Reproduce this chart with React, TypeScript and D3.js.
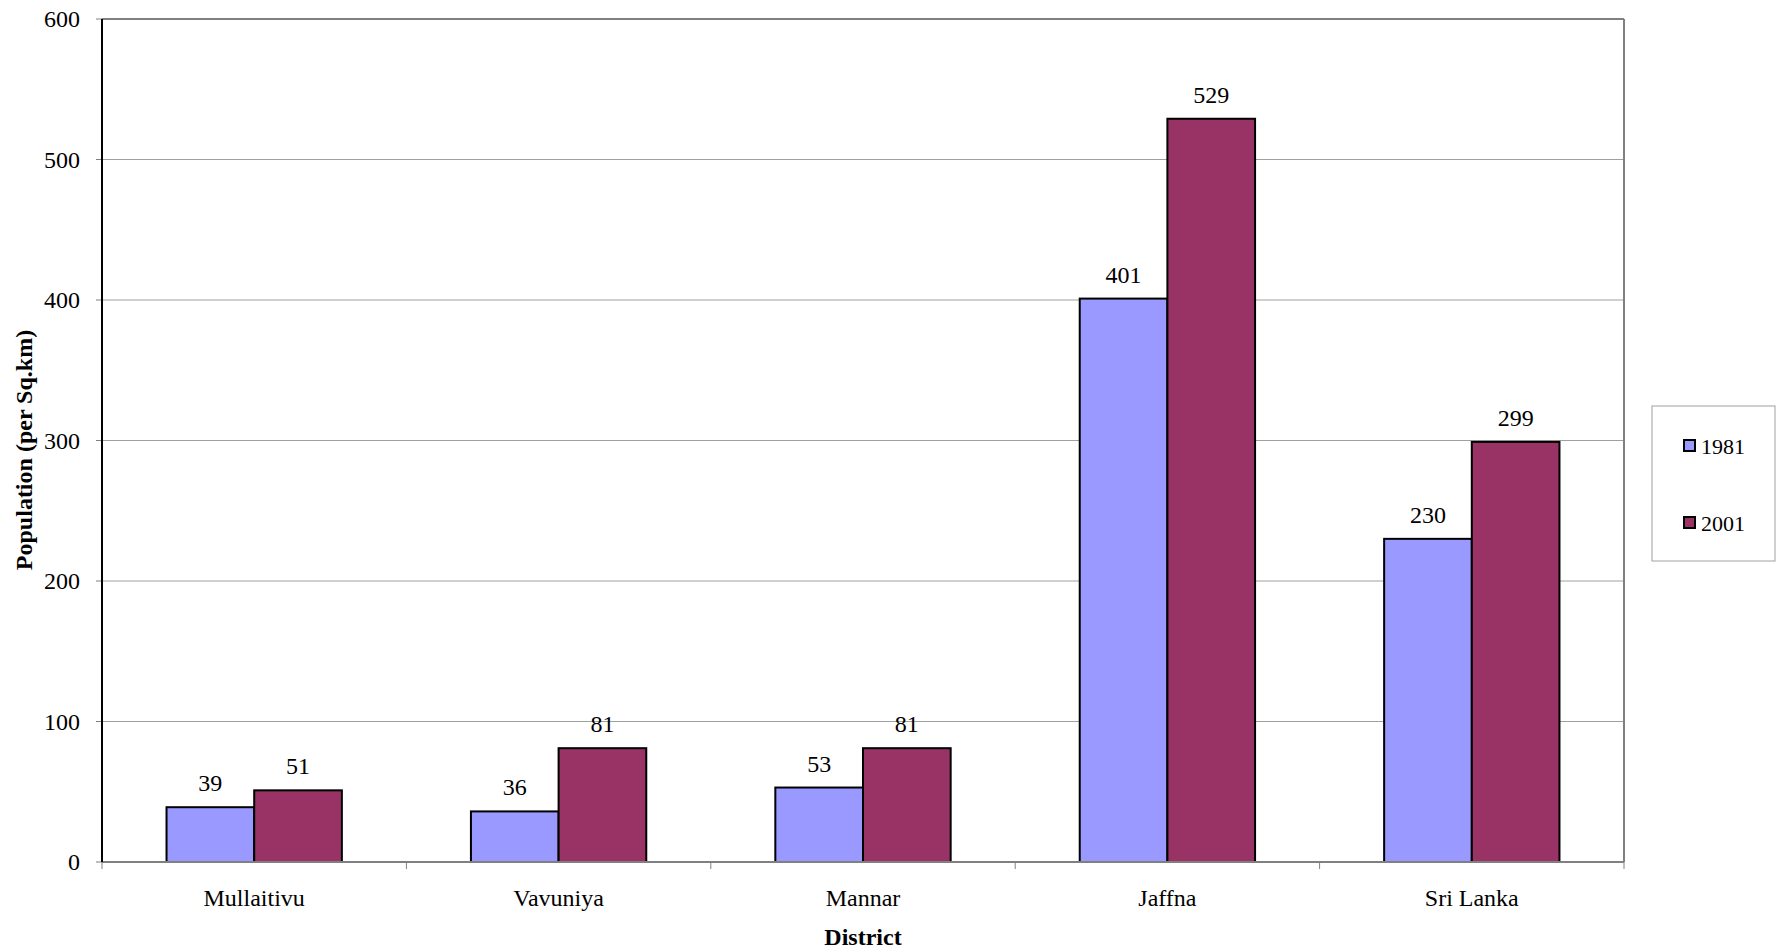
import React from "react";
import * as d3 from "d3";

const categories = ["Mullaitivu", "Vavuniya", "Mannar", "Jaffna", "Sri Lanka"];
const series = ["1981", "2001"];
const values1981 = [39, 36, 53, 401, 230];
const values2001 = [51, 81, 81, 529, 299];
const yTicks = [0, 100, 200, 300, 400, 500, 600];
const colors = ["#9999FF", "#993366"];

const FONT = "Liberation Serif";

export default function App() {
  const W = 1781, H = 951;
  const left = 102, right = 1624, top = 19, bottom = 862;
  const x = d3.scaleBand<string>().domain(categories).range([left, right]);
  const y = d3.scaleLinear().domain([0, 600]).range([bottom, top]);
  const bw = x.bandwidth() * 0.288;
  const data = [values1981, values2001];
  return (
    <svg width={W} height={H} style={{ position: "absolute", left: 0, top: 0 }}>
      <rect x={0} y={0} width={W} height={H} fill="#fff" />
      {yTicks.map((t) => (
        <g key={t}>
          {t > 0 && <line x1={left} x2={right} y1={y(t)} y2={y(t)} stroke="#a0a0a0" strokeWidth={1} />}
          <line x1={left - 6} x2={left} y1={y(t)} y2={y(t)} stroke="#808080" strokeWidth={1} />
          <text x={left - 22} y={y(t)} dy="0.35em" textAnchor="end" fontFamily={FONT} fontSize={24} fill="#000">{t}</text>
        </g>
      ))}
      <line x1={left} x2={right} y1={top} y2={top} stroke="#808080" strokeWidth={2} />
      <line x1={right} x2={right} y1={top} y2={bottom} stroke="#808080" strokeWidth={2} />
      {categories.map((c, i) => (
        <g key={c}>
          {data.map((vals, s) => {
            const cx = x(c)! + x.bandwidth() / 2;
            const bx = cx + (s - 1) * bw;
            return (
              <g key={s}>
                <rect x={bx} y={y(vals[i])} width={bw} height={bottom - y(vals[i])} fill={colors[s]} stroke="#000" strokeWidth={2} />
                <text x={bx + bw / 2} y={y(vals[i]) - 16} textAnchor="middle" fontFamily={FONT} fontSize={24} fill="#000">{vals[i]}</text>
              </g>
            );
          })}
          <text x={x(c)! + x.bandwidth() / 2} y={898} dy="0.35em" textAnchor="middle" fontFamily={FONT} fontSize={24} fill="#000">{c}</text>
        </g>
      ))}
      {d3.range(categories.length + 1).map((i) => {
        const xx = left + i * x.step();
        return <line key={i} x1={xx} x2={xx} y1={bottom} y2={bottom + 7} stroke="#808080" strokeWidth={1} />;
      })}
      <line x1={left} x2={right} y1={bottom} y2={bottom} stroke="#808080" strokeWidth={2} />
      <line x1={left} x2={left} y1={top} y2={bottom} stroke="#000" strokeWidth={2} />
      <text x={left + (right - left) / 2} y={937} dy="0.35em" textAnchor="middle" fontFamily={FONT} fontSize={24} fontWeight="bold" fill="#000">District</text>
      <text transform={`translate(24, 450) rotate(-90)`} dy="0.35em" textAnchor="middle" fontFamily={FONT} fontSize={24} fontWeight="bold" fill="#000">Population (per Sq.km)</text>
      <rect x={1652} y={406} width={123} height={155} fill="#fff" stroke="#a0a0a0" strokeWidth={1} />
      {series.map((s, i) => {
        const ly = 446 + i * 77;
        return (
          <g key={s}>
            <rect x={1684} y={ly - 6} width={11} height={11} fill={colors[i]} stroke="#000" strokeWidth={2} />
            <text x={1701} y={ly} dy="0.35em" fontFamily={FONT} fontSize={22} fill="#000">{s}</text>
          </g>
        );
      })}
    </svg>
  );
}
